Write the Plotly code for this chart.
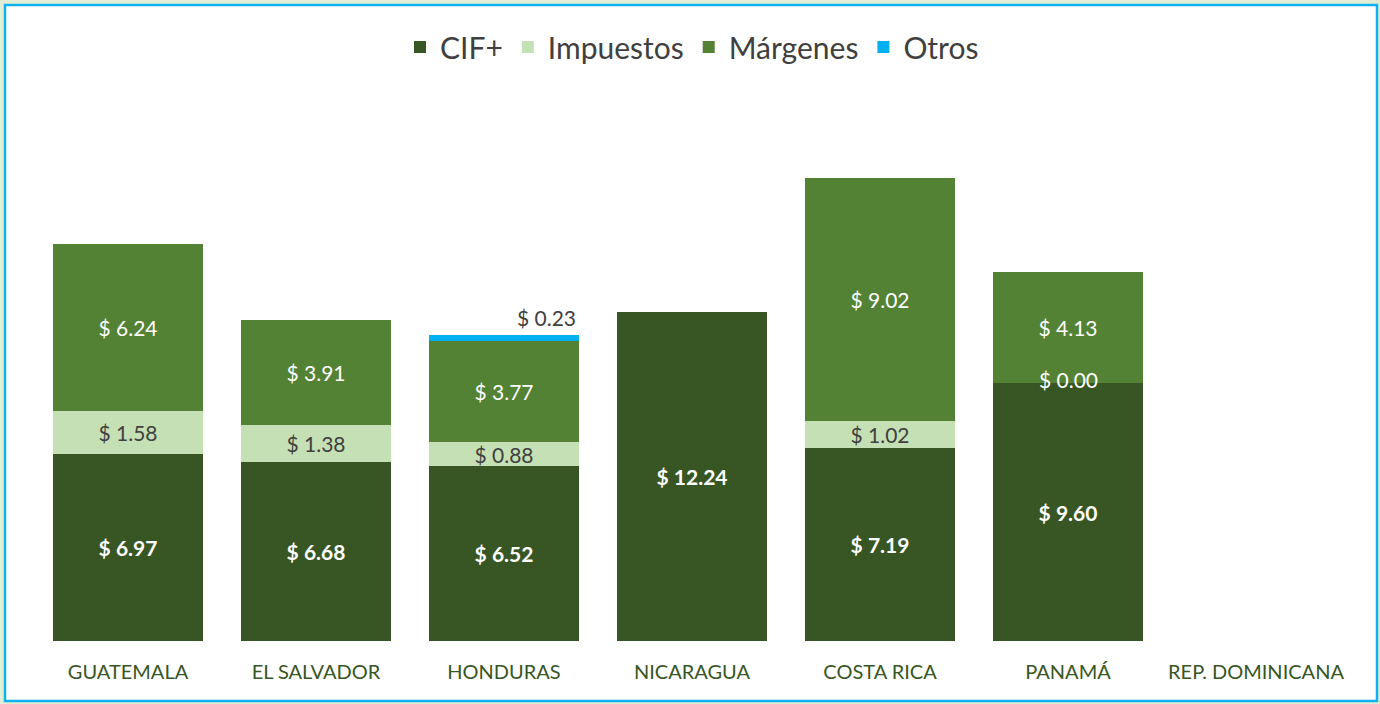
import plotly.graph_objects as go

paises = ["GUATEMALA", "EL SALVADOR", "HONDURAS", "NICARAGUA", "COSTA RICA", "PANAMÁ", "REP. DOMINICANA"]
cif = [6.97, 6.68, 6.52, 12.24, 7.19, 9.60, None]
impuestos = [1.58, 1.38, 0.88, 0.0, 1.02, 0.0, None]
margenes = [6.24, 3.91, 3.77, 0.0, 9.02, 4.13, None]
otros = [0.0, 0.0, 0.23, 0.0, 0.0, 0.0, None]

FONT = "Lato"
C_CIF = "#375623"
C_IMP = "#C5E0B4"
C_MAR = "#548235"
C_OTR = "#00B0F0"
LBL = 21


def lbl(vals):
    return [f"$ {v:.2f}" if (v is not None and v > 0.3) else "" for v in vals]


fig = go.Figure()
fig.add_bar(name="CIF+", x=paises, y=cif, marker_color=C_CIF, text=lbl(cif),
            textposition="inside", insidetextanchor="middle", textangle=0,
            constraintext="none",
            textfont=dict(family=FONT, size=LBL, color="white", weight="bold"))
fig.add_bar(name="Impuestos", x=paises, y=impuestos, marker_color=C_IMP, text=lbl(impuestos),
            textposition="inside", insidetextanchor="middle", textangle=0,
            constraintext="none",
            textfont=dict(family=FONT, size=LBL, color="#404040"))
fig.add_bar(name="Márgenes", x=paises, y=margenes, marker_color=C_MAR, text=lbl(margenes),
            textposition="inside", insidetextanchor="middle", textangle=0,
            constraintext="none",
            textfont=dict(family=FONT, size=LBL, color="white"))
fig.add_bar(name="Otros", x=paises, y=otros, marker_color=C_OTR, text=[""] * len(paises),
            textposition="none")

fig.update_traces(marker_line_width=0)

# Label for "Otros" in Honduras, above the bar
hi = paises.index("HONDURAS")
tot_h = cif[hi] + impuestos[hi] + margenes[hi] + otros[hi]
fig.add_annotation(x=paises[hi], y=tot_h, text=f"$ {otros[hi]:.2f}", showarrow=False,
                   xanchor="center", yanchor="bottom", xshift=42, yshift=3,
                   font=dict(family=FONT, size=LBL, color="#404040"))
# Zero-valued Impuestos label for Panamá
pi = paises.index("PANAMÁ")
fig.add_annotation(x=paises[pi], y=cif[pi] + impuestos[pi], text=f"$ {impuestos[pi]:.2f}",
                   showarrow=False, xanchor="center", yanchor="middle", yshift=4,
                   font=dict(family=FONT, size=LBL, color="white"))

# Outer frame
fig.add_shape(type="rect", xref="paper", yref="paper", layer="below",
              x0=(5 - 34) / 1316, x1=(1377 - 34) / 1316,
              y0=(641 - 701) / 537, y1=(641 - 5) / 537,
              line=dict(color="#10B2EE", width=2.5), fillcolor="white")

fig.update_layout(
    width=1380, height=704,
    barmode="stack", bargap=0.2,
    paper_bgcolor="#E2EDD5", plot_bgcolor="rgba(0,0,0,0)",
    margin=dict(l=34, r=30, t=104, b=63),
    font=dict(family=FONT, color="#404040"),
    legend=dict(orientation="h", x=0.5, xanchor="center", y=(641 - 47) / 537, yanchor="middle",
                font=dict(family=FONT, size=30, color="#404040"), traceorder="normal",
                bgcolor="rgba(0,0,0,0)"),
    xaxis=dict(showgrid=False, showline=False, zeroline=False, ticks="",
               tickfont=dict(family=FONT, size=20, color=C_CIF), ticklabelstandoff=17),
    yaxis=dict(range=[0, 20], visible=False, showgrid=False, zeroline=False),
)

fig.write_html("out.html", config={"displayModeBar": False},
               post_script="document.body.style.margin='0';document.body.style.padding='0';"
                           "document.body.style.overflow='hidden';")
